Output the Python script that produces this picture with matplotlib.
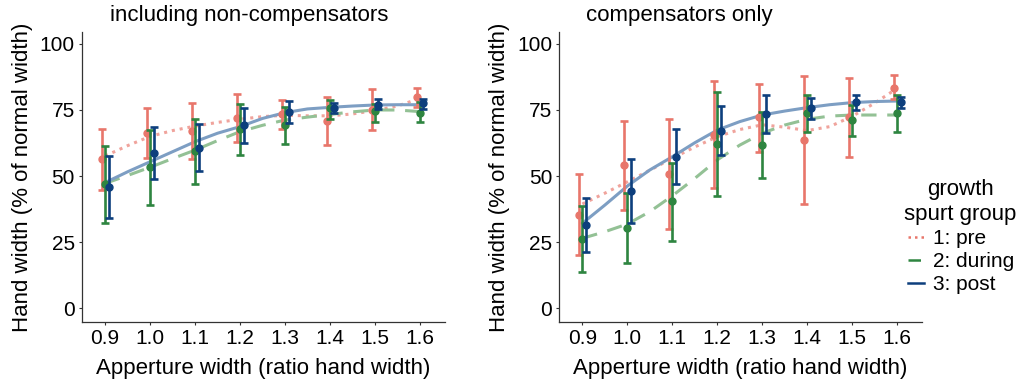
import matplotlib
matplotlib.use("Agg")
import matplotlib.pyplot as plt
from matplotlib.lines import Line2D

plt.rcParams['font.family'] = ['Liberation Sans', 'DejaVu Sans']

# aperture widths (ratio hand width)
apertures = [0.9, 1.0, 1.1, 1.2, 1.3, 1.4, 1.5, 1.6]
curve_x = [0.9, 0.95, 1.0, 1.05, 1.1, 1.15, 1.2, 1.25, 1.3, 1.35, 1.4, 1.45, 1.5, 1.55, 1.6]

groups = ["1: pre", "2: during", "3: post"]

# --- panel 1: including non-compensators ---
inc_mean_pre = [56.3, 66.4, 67.0, 71.8, 73.3, 71.0, 75.0, 79.8]
inc_lo_pre = [44.7, 56.7, 56.4, 63.0, 67.7, 61.6, 67.3, 76.3]
inc_hi_pre = [67.9, 75.9, 77.5, 80.9, 78.6, 80.0, 83.1, 83.2]
inc_mean_during = [46.8, 53.3, 59.5, 67.7, 69.2, 75.6, 74.5, 74.0]
inc_lo_during = [32.1, 39.0, 46.8, 57.8, 62.1, 71.5, 70.3, 70.3]
inc_hi_during = [61.4, 67.4, 71.5, 77.2, 76.0, 78.8, 77.2, 78.2]
inc_mean_post = [45.8, 58.8, 60.7, 69.3, 74.4, 75.9, 77.0, 77.5]
inc_lo_post = [34.2, 48.9, 52.0, 62.4, 70.2, 73.7, 75.3, 75.4]
inc_hi_post = [57.4, 68.7, 69.6, 75.6, 78.5, 77.5, 79.0, 79.3]

inc_fit_pre = [57.6, 61.5, 65.0, 67.2, 68.9, 70.3, 71.5, 72.5, 73.0, 72.8, 72.8, 73.5, 74.8, 76.5, 79.4]
inc_fit_during = [47.2, 50.2, 53.3, 56.6, 59.8, 63.4, 66.8, 69.2, 71.2, 72.3, 73.3, 74.3, 75.0, 75.0, 74.4]
inc_fit_post = [47.5, 51.6, 55.4, 59.2, 63.0, 66.2, 68.7, 71.8, 74.0, 75.4, 76.0, 76.5, 76.9, 77.0, 77.0]

# --- panel 2: compensators only ---
com_mean_pre = [35.4, 54.2, 50.8, 65.6, 72.2, 63.6, 72.2, 83.2]
com_lo_pre = [20.1, 37.1, 29.9, 45.3, 59.2, 39.3, 57.1, 79.0]
com_hi_pre = [50.8, 70.8, 71.6, 86.0, 84.8, 87.9, 87.2, 88.3]
com_mean_during = [26.0, 30.3, 40.4, 62.0, 61.7, 74.0, 71.2, 73.7]
com_lo_during = [13.5, 17.2, 25.5, 42.4, 49.1, 66.8, 65.3, 66.8]
com_hi_during = [38.6, 43.7, 55.0, 81.7, 74.4, 80.7, 76.9, 80.7]
com_mean_post = [31.4, 44.4, 57.1, 67.1, 73.4, 75.6, 77.9, 77.9]
com_lo_post = [21.3, 32.3, 47.0, 57.8, 66.2, 71.6, 75.0, 75.9]
com_hi_post = [41.5, 56.3, 67.8, 76.5, 80.7, 79.4, 80.7, 80.0]

com_fit_pre = [39.4, 43.5, 47.8, 52.2, 56.7, 61.0, 64.9, 67.6, 69.4, 68.5, 67.2, 68.7, 72.6, 77.6, 83.2]
com_fit_during = [26.4, 28.9, 31.8, 36.5, 42.5, 49.1, 56.1, 61.7, 66.2, 69.3, 71.5, 72.7, 73.1, 73.1, 73.1]
com_fit_post = [32.1, 39.0, 46.2, 52.3, 57.3, 62.6, 67.4, 70.6, 73.1, 74.6, 75.9, 77.0, 77.8, 78.2, 78.4]

colors = ["#E8766B", "#2E8540", "#0D3F7D"]
fit_colors = ["#F0A39C", "#93C195", "#7D9EC3"]
styles = [(0, (1, 1.6)), (0, (5, 3.5)), "-"]
dodge = [-0.007, 0.0, 0.008]

panels = [
    ("including non-compensators",
     [inc_mean_pre, inc_mean_during, inc_mean_post],
     [inc_lo_pre, inc_lo_during, inc_lo_post],
     [inc_hi_pre, inc_hi_during, inc_hi_post],
     [inc_fit_pre, inc_fit_during, inc_fit_post]),
    ("compensators only",
     [com_mean_pre, com_mean_during, com_mean_post],
     [com_lo_pre, com_lo_during, com_lo_post],
     [com_hi_pre, com_hi_during, com_hi_post],
     [com_fit_pre, com_fit_during, com_fit_post]),
]

fig = plt.figure(figsize=(10.22, 3.85), dpi=100)
lefts = [0.080, 0.547]
title_x = [110 / 1022, 586 / 1022]

for left, tx, (title, means, los, his, fits) in zip(lefts, title_x, panels):
    ax = fig.add_axes([left, 0.1636, 0.355, 0.753])
    for i in range(3):
        ax.plot(curve_x, fits[i], color=fit_colors[i], linestyle=styles[i],
                lw=2.2, zorder=2)
    for i in range(3):
        xs = [a + dodge[i] for a in apertures]
        yerr = [[m - l for m, l in zip(means[i], los[i])],
                [h - m for m, h in zip(means[i], his[i])]]
        ax.errorbar(xs, means[i], yerr=yerr, fmt="o", color=colors[i],
                    ms=5, elinewidth=1.9, capsize=2.8, capthick=1.9, zorder=3 + i)
    ax.set_xlim(0.848, 1.655)
    ax.set_ylim(-5.3, 104.5)
    ax.set_xticks(apertures)
    ax.set_xticklabels(["0.9", "1.0", "1.1", "1.2", "1.3", "1.4", "1.5", "1.6"])
    ax.set_yticks([0, 25, 50, 75, 100])
    ax.tick_params(labelsize=15, length=2.5, color="#333333", width=0.8, pad=2.5)
    for s in ["top", "right"]:
        ax.spines[s].set_visible(False)
    for s in ["left", "bottom"]:
        ax.spines[s].set_color("#333333")
        ax.spines[s].set_linewidth(0.9)
    ax.set_xlabel("Apperture width (ratio hand width)", fontsize=16, labelpad=7)
    ax.set_ylabel("Hand width (% of normal width)", fontsize=16, labelpad=5)
    fig.text(tx, 1 - 21 / 385, title, fontsize=16, ha="left", va="baseline")

handles = [Line2D([], [], color=c, linestyle=s, lw=1.8) for c, s in zip(colors, styles)]
leg = fig.legend(handles, groups, title="growth\nspurt group", loc="center",
                 bbox_to_anchor=(0.94, 0.385), frameon=False, fontsize=15,
                 title_fontsize=16, handlelength=0.8, handletextpad=0.4,
                 labelspacing=0.2)
leg.get_title().set_multialignment("center")

fig.savefig("out.png", dpi=100)
